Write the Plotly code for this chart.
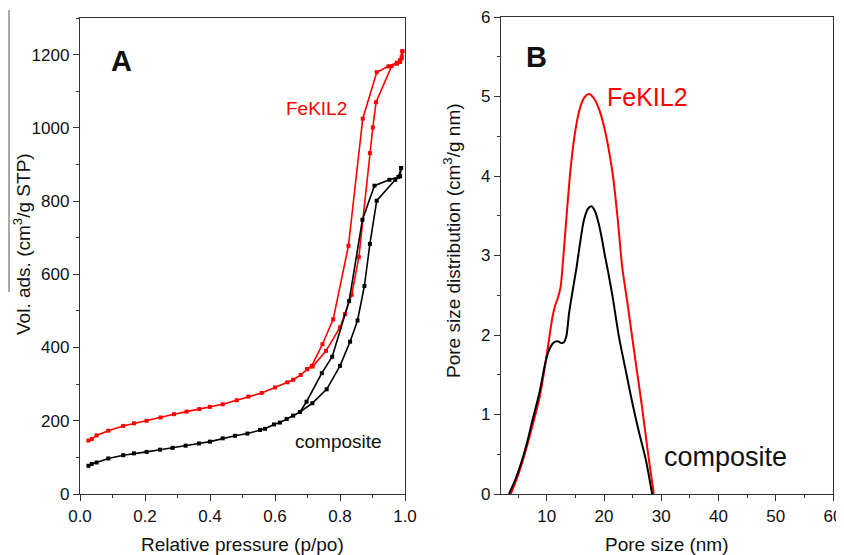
import plotly.graph_objects as go

# ---------- Panel A: N2 isotherms ----------
fe_ads_p = [0.026, 0.036, 0.051, 0.087, 0.133, 0.166, 0.205, 0.248, 0.289, 0.328, 0.367, 0.400, 0.439,
            0.482, 0.518, 0.559, 0.600, 0.638, 0.656, 0.679, 0.699, 0.716, 0.757, 0.800, 0.815, 0.836,
            0.858, 0.892, 0.901, 0.911, 0.959, 0.975, 0.985, 0.990, 0.992]
fe_ads_v = [146, 150, 160, 173, 186, 193, 200, 209, 218, 225, 232, 238, 245,
            256, 266, 276, 291, 305, 312, 325, 341, 348, 391, 455, 491, 544,
            647, 931, 1001, 1070, 1169, 1175, 1180, 1190, 1209]
fe_des_p = [0.992, 0.990, 0.985, 0.975, 0.949, 0.913, 0.870, 0.826, 0.779, 0.746, 0.713, 0.699]
fe_des_v = [1209, 1195, 1185, 1178, 1168, 1152, 1025, 678, 477, 409, 350, 341]

co_ads_p = [0.026, 0.036, 0.051, 0.087, 0.133, 0.166, 0.205, 0.246, 0.285, 0.325, 0.366, 0.400, 0.439,
            0.477, 0.515, 0.554, 0.569, 0.597, 0.615, 0.636, 0.656, 0.677, 0.715, 0.759, 0.800, 0.831,
            0.854, 0.875, 0.892, 0.913, 0.970, 0.985, 0.988]
co_ads_v = [77, 82, 86, 97, 106, 111, 115, 121, 126, 132, 138, 143, 152,
            159, 165, 175, 178, 190, 195, 205, 214, 224, 248, 286, 350, 416,
            474, 568, 683, 801, 858, 868, 890]
co_des_p = [0.988, 0.980, 0.952, 0.906, 0.869, 0.828, 0.776, 0.744, 0.697, 0.677]
co_des_v = [890, 866, 858, 842, 749, 527, 375, 330, 252, 224]

# ---------- Panel B: pore size distributions ----------
co_d = [3.4, 4.5, 5.7, 6.6, 7.5, 8.7, 9.8, 10.4, 11.0, 11.6, 12.0, 12.5, 13.0, 13.4, 13.9, 14.5, 15.2,
        15.8, 16.5, 17.2, 17.8, 18.4, 19.0, 19.6, 20.2, 20.7, 21.5, 22.6, 23.8, 24.9, 26.1, 27.3, 28.4]
co_psd = [0.0, 0.18, 0.43, 0.66, 0.93, 1.27, 1.67, 1.81, 1.89, 1.92, 1.92, 1.90, 1.91, 1.98, 2.28, 2.55, 2.85,
          3.15, 3.45, 3.59, 3.62, 3.56, 3.42, 3.22, 2.98, 2.80, 2.48, 1.98, 1.55, 1.16, 0.78, 0.43, 0.0]
fe_d = [3.7, 4.8, 5.8, 6.8, 7.5, 8.7, 9.8, 10.4, 11.0, 11.5, 11.9, 12.4, 12.8, 13.4, 14.1, 14.7, 15.3,
        16.0, 16.7, 17.4, 18.1, 18.8, 19.5, 20.2, 20.9, 21.6, 22.4, 23.2, 24.1, 24.9, 25.8, 26.7, 27.8, 28.7]
fe_psd = [0.0, 0.20, 0.42, 0.67, 0.86, 1.20, 1.66, 1.95, 2.23, 2.38, 2.46, 2.60, 2.90, 3.45, 4.05, 4.43, 4.70,
          4.90, 5.00, 5.03, 4.99, 4.90, 4.76, 4.56, 4.30, 3.98, 3.45, 2.84, 2.40, 1.98, 1.52, 1.06, 0.45, 0.0]

RED = "#ff0000"
BLK = "#000000"
FONT = "Liberation Sans, Arial, sans-serif"

fig = go.Figure()

def iso(x, y, color):
    fig.add_trace(go.Scatter(x=x, y=y, mode="lines+markers", xaxis="x", yaxis="y",
                             line=dict(color=color, width=1.6),
                             marker=dict(symbol="square", size=4, color=color),
                             showlegend=False))

iso(fe_ads_p, fe_ads_v, RED)
iso(fe_des_p, fe_des_v, RED)
iso(co_ads_p, co_ads_v, BLK)
iso(co_des_p, co_des_v, BLK)

fig.add_trace(go.Scatter(x=fe_d, y=fe_psd, mode="lines", xaxis="x2", yaxis="y2",
                         line=dict(color=RED, width=2, shape="spline", smoothing=0.8), showlegend=False))
fig.add_trace(go.Scatter(x=co_d, y=co_psd, mode="lines", xaxis="x2", yaxis="y2",
                         line=dict(color=BLK, width=2, shape="spline", smoothing=0.8), showlegend=False))

# the page body has an 8 px margin, so the figure is drawn 8 px in from the window corner
OFF = 8
W, H = 844 - OFF, 555 - OFF
def px(x): return (x - OFF) / W
def py(y): return (H - (y - OFF)) / H

axis_common = dict(showline=True, linecolor="#333333", linewidth=1.3, mirror=True,
                   ticks="outside", ticklen=6, tickwidth=1.2, tickcolor="#333333",
                   showgrid=False, zeroline=False, automargin=False,
                   ticklabeloverflow="allow",
                   tickfont=dict(family=FONT, size=17, color="#111111"))

fig.update_layout(
    width=W, height=H,
    margin=dict(l=0, r=0, t=0, b=0),
    paper_bgcolor="white", plot_bgcolor="white",
    font=dict(family=FONT, color="#111111"),
    xaxis=dict(domain=[px(80), px(405)], range=[0, 1.0], tick0=0, dtick=0.2, tickformat=".1f",
               minor=dict(dtick=0.1, ticks="outside", ticklen=3, tickcolor="#333333"),
               anchor="y", **axis_common),
    yaxis=dict(domain=[py(494), py(18)], range=[0, 1300], tick0=0, dtick=200,
               minor=dict(dtick=100, ticks="outside", ticklen=3, tickcolor="#333333"),
               anchor="x", **axis_common),
    xaxis2=dict(domain=[px(501), px(833)], range=[2, 60], tick0=0, dtick=10,
                minor=dict(dtick=5, ticks="outside", ticklen=3, tickcolor="#333333"),
                anchor="y2", **axis_common),
    yaxis2=dict(domain=[py(494), py(17)], range=[0, 6.0001], tick0=0, dtick=1,
                minor=dict(dtick=0.5, ticks="outside", ticklen=3, tickcolor="#333333"),
                anchor="x2", **axis_common),
)

def ann(text, x, y, size, color="#111111", bold=False, angle=0):
    if bold:
        text = "<b>" + text + "</b>"
    fig.add_annotation(text=text, x=px(x), y=py(y), xref="paper", yref="paper",
                       showarrow=False, xanchor="center", yanchor="middle", textangle=angle,
                       font=dict(family=FONT, size=size, color=color))

# axis titles
ann("Relative pressure (p/po)", 242, 544, 19)
ann("Pore size (nm)", 667, 544, 19)
ann("Vol. ads. (cm<sup>3</sup>/g STP)", 22, 244, 19, angle=-90)
ann("Pore size distribution (cm<sup>3</sup>/g nm)", 452, 241, 19, angle=-90)

# panel labels and series labels
ann("A", 122, 61, 29, bold=True)
ann("B", 536, 57, 29, bold=True)
ann("FeKIL2", 316, 108, 19, color=RED)
ann("composite", 338, 441, 19)
ann("FeKIL2", 647, 97, 25, color=RED)
ann("composite", 725, 457, 27)

# thin vertical line at the far left of the original figure
fig.add_shape(type="line", xref="paper", yref="paper", x0=px(9), x1=px(9), y0=py(10), y1=py(292),
              line=dict(color="#555555", width=1))

fig.write_html("out.html")
